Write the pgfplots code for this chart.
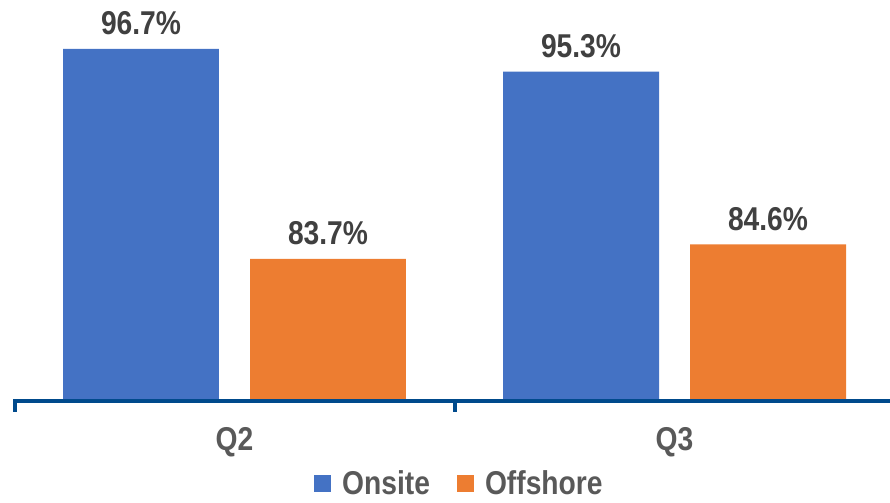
\documentclass[border=0pt]{standalone}
\usepackage{fontspec}
\setmainfont{Liberation Sans}[FakeStretch=0.855]
\usepackage{pgfplots}
\pgfplotsset{compat=1.18}
\definecolor{onsite}{HTML}{4472C4}
\definecolor{offshore}{HTML}{ED7D31}
\definecolor{axisblue}{RGB}{0,74,140}
\definecolor{labelgray}{HTML}{595959}
\definecolor{valgray}{HTML}{404040}
\newcommand{\bigbold}{\bfseries\fontsize{33bp}{33bp}\selectfont}

\begin{document}
\begin{tikzpicture}[x=1bp,y=1bp]
\path[use as bounding box] (0,0) rectangle (890,503);
\begin{axis}[
  at={(14.5bp,101.5bp)}, anchor=south west,
  scale only axis, width=880bp, height=401.5bp,
  xmin=-0.5, xmax=1.5, ymin=74.87, ymax=99.73,
  clip mode=individual,
  axis y line=none,
  axis x line*=bottom,
  x axis line style={draw=none},
  xtick={0,1}, xticklabels={Q2,Q3},
  xtick style={draw=none},
  xticklabel style={anchor=base, yshift=-45bp, text=labelgray, font=\bigbold},
  ybar, bar width=0.3545,
  /pgf/number format/assume math mode=true,
  nodes near coords={\pgfmathprintnumber[fixed,precision=1,fixed zerofill]{\pgfplotspointmeta}\%},
  every node near coord/.append style={anchor=base, inner sep=0pt, yshift=14bp, text=valgray, font=\bigbold},
  legend style={at={(0.505,-0.203)}, anchor=center, draw=none, fill=none,
    inner sep=0pt, nodes={inner sep=1bp, text depth=0pt},
    legend columns=2, font=\bigbold, text=labelgray,
    /tikz/every odd column/.append style={column sep=10bp},
    /tikz/every even column/.append style={column sep=26bp}},
  legend image code/.code={\fill[#1] (0bp,-9bp) rectangle (17bp,8bp);},
]
\addplot[fill=onsite, draw=none, bar shift=-0.2125] coordinates {(0,96.7) (1,95.3)};
\addplot[fill=offshore, draw=none, bar shift=0.2125] coordinates {(0,83.7) (1,84.6)};
\legend{Onsite,Offshore}
\draw[axisblue, line width=4bp] (axis cs:-0.5,74.87) -- (axis cs:1.5,74.87);
\draw[axisblue, line width=4bp] (axis cs:-0.5,74.87) ++(0pt,2bp) -- ++(0pt,-13bp);
\draw[axisblue, line width=4bp] (axis cs:0.5,74.87) -- ++(0pt,-11bp);
\draw[axisblue, line width=4bp] (axis cs:1.5,74.87) -- ++(0pt,-11bp);
\end{axis}
\end{tikzpicture}
\end{document}
